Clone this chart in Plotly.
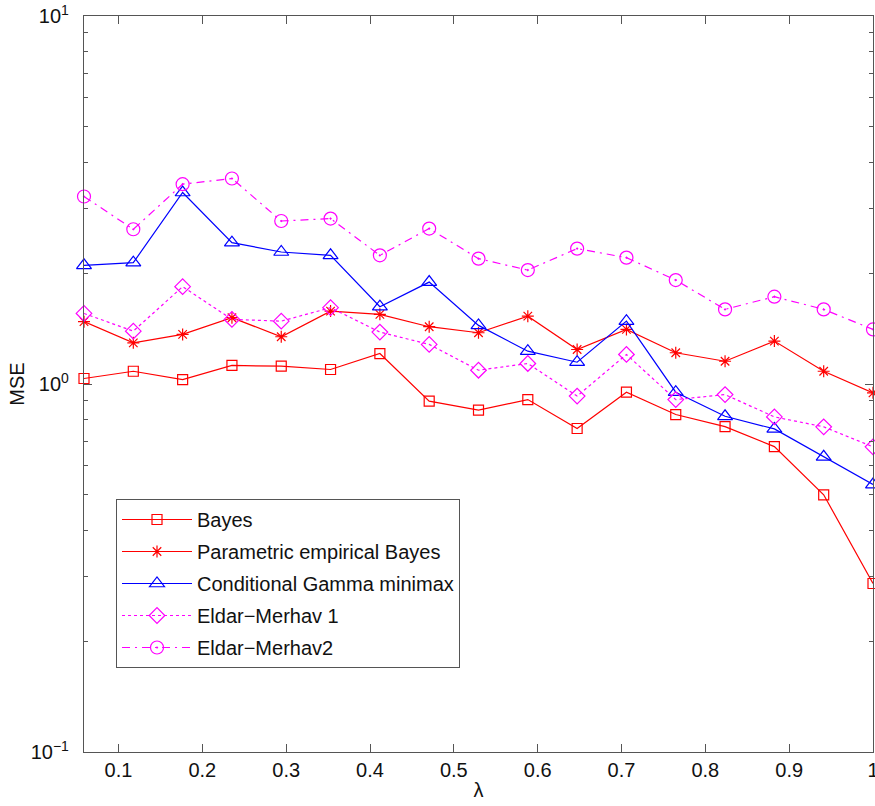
import plotly.graph_objects as go

lam = [k / 17 for k in range(1, 18)]

bayes = [1.035, 1.083, 1.028, 1.123, 1.118, 1.095, 1.21, 0.898, 0.849, 0.907,
         0.757, 0.950, 0.826, 0.766, 0.676, 0.500, 0.287]
peb = [1.477, 1.294, 1.364, 1.514, 1.344, 1.578, 1.546, 1.431, 1.378, 1.529,
       1.241, 1.407, 1.216, 1.153, 1.308, 1.083, 0.946]
cgm = [2.101, 2.137, 3.314, 2.422, 2.284, 2.237, 1.622, 1.892, 1.443, 1.228,
       1.146, 1.482, 0.950, 0.817, 0.755, 0.634, 0.533]
em1 = [1.555, 1.392, 1.839, 1.498, 1.482, 1.612, 1.384, 1.281, 1.090, 1.137,
       0.927, 1.203, 0.907, 0.936, 0.814, 0.765, 0.675]
em2 = [3.232, 2.633, 3.491, 3.618, 2.773, 2.815, 2.237, 2.645, 2.191, 2.040,
       2.333, 2.205, 1.916, 1.595, 1.727, 1.595, 1.407]

names = ["Bayes", "Parametric empirical Bayes", "Conditional Gamma minimax",
         "Eldar\u2212Merhav 1", "Eldar\u2212Merhav2"]
series = [bayes, peb, cgm, em1, em2]
colors = ["#ff0000", "#ff0000", "#0000ff", "#ff00ff", "#ff00ff"]
symbols = ["square-open", "asterisk-open", "triangle-up-open", "diamond-open", "circle-open-dot"]
msizes = [10, 10, 13, 12, 13]
dashes = ["solid", "solid", "solid", "dot", "8px,5px,2px,5px"]

y_tickvals = [0.1, 1, 10]
y_ticktext = ["10<sup>\u22121</sup>", "10<sup>0</sup>", "10<sup>1</sup>"]
x_tickvals = [0.1, 0.2, 0.3, 0.4, 0.5, 0.6, 0.7, 0.8, 0.9, 1]
x_ticktext = ["0.1", "0.2", "0.3", "0.4", "0.5", "0.6", "0.7", "0.8", "0.9", "1"]
minor_vals = [v * 10 ** e for e in (-1, 0) for v in range(2, 10)]

fig = go.Figure()
for i, (nm, ys) in enumerate(zip(names, series)):
    fig.add_trace(go.Scatter(
        x=lam, y=ys, name=nm, mode="lines+markers", legendgroup=str(i),
        line=dict(color=colors[i], width=1.2, dash=dashes[i]),
        marker=dict(symbol=symbols[i], size=msizes[i], color=colors[i],
                    line=dict(color=colors[i], width=1.2)),
        cliponaxis=False,
    ))

axcol = "#555555"
fnt = "Liberation Sans, Arial, sans-serif"
fig.update_layout(
    width=875, height=806,
    margin=dict(l=84, r=2, t=16, b=54, autoexpand=False),
    paper_bgcolor="white", plot_bgcolor="white",
    font=dict(family=fnt, size=20, color="#111111"),
    showlegend=True,
    legend=dict(x=(116 - 84) / 789, y=(752 - 499) / 736, xanchor="left", yanchor="top",
                bordercolor=axcol, borderwidth=1, bgcolor="white",
                font=dict(family=fnt, size=20), itemwidth=70, tracegroupgap=3,
                traceorder="grouped"),
    xaxis=dict(range=[1 / 17, 1.0], tickvals=x_tickvals, ticktext=x_ticktext,
               tickfont=dict(family=fnt, size=20), ticklabeloverflow="allow",
               automargin=False,
               ticks="inside", ticklen=8, tickcolor=axcol, showline=True,
               linecolor=axcol, linewidth=1.3, mirror="ticks", showgrid=False,
               zeroline=False,
               title=dict(text="\u03bb", standoff=2, font=dict(family=fnt, size=20))),
    yaxis=dict(type="log", range=[-1, 1], tickvals=y_tickvals, ticktext=y_ticktext,
               tickfont=dict(family=fnt, size=20), automargin=False,
               ticks="inside", ticklen=8, tickcolor=axcol, showline=True,
               linecolor=axcol, linewidth=1.3, mirror="ticks", showgrid=False,
               zeroline=False, ticklabelstandoff=10,
               minor=dict(tickvals=minor_vals, ticks="inside", ticklen=4,
                          tickcolor=axcol, showgrid=False),
               title=dict(text="MSE", standoff=0, font=dict(family=fnt, size=20))),
)

fig.write_html("out.html")
